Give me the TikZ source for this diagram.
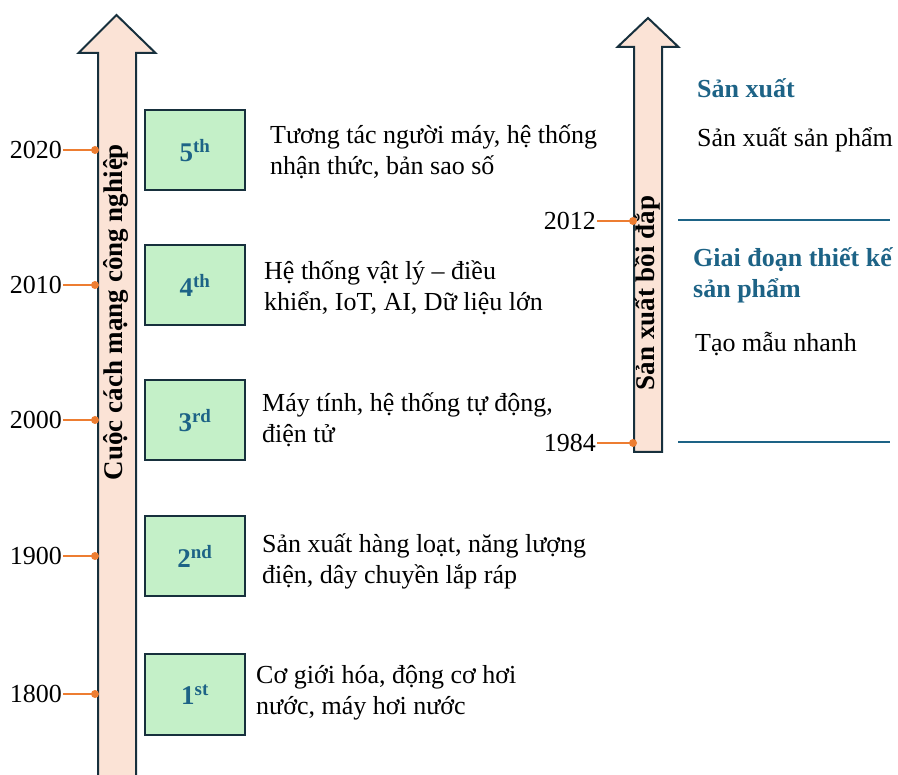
\documentclass[tikz,border=0pt]{standalone}
\usepackage{fontspec}
\setmainfont{Liberation Serif}
\definecolor{peach}{HTML}{FBE3D6}
\definecolor{edge}{HTML}{17303D}
\definecolor{mint}{HTML}{C4F0C8}
\definecolor{accent}{HTML}{ED7D31}
\definecolor{headblue}{HTML}{1D6386}
\tikzset{
  timeline/.style={fill=peach, draw=edge, line width=2pt, line join=miter},
  era/.style={draw=edge, fill=mint, line width=2pt, minimum width=100pt,
    minimum height=80pt, inner sep=0pt,
    font=\fontsize{27}{30}\selectfont\bfseries, text=headblue},
  % multi-line descriptions are placed by the baseline of their last line
  desc/.style={anchor=base west, align=left, inner sep=0pt,
    font=\fontsize{26}{31}\selectfont},
  year/.style={anchor=east, inner sep=1pt, font=\fontsize{26}{31}\selectfont},
  tick/.style={draw=accent, line width=2pt},
  dot/.style={circle, fill=accent, minimum size=8pt, inner sep=0pt},
  axislabel/.style={rotate=90, inner sep=0pt,
    font=\fontsize{27}{31}\selectfont\bfseries},
  phase/.style={draw=headblue, line width=2pt},
  heading/.style={anchor=base west, align=left, inner sep=0pt,
    font=\fontsize{26}{31}\selectfont\bfseries, text=headblue},
}
\begin{document}
\begin{tikzpicture}[x=1pt, y=-1pt]
\useasboundingbox (0,0) rectangle (898,775);
\clip (0,0) rectangle (898,775);

% ---- industrial revolutions timeline ----
\draw[timeline] (98,800) -- (98,53) -- (78.5,53) -- (116.5,15) -- (155.5,53)
  -- (136,53) -- (136,800) -- cycle;
\node[axislabel] (irlabel) at (116,312) {Cuộc cách mạng công nghiệp};

\node[era] (r5) at (195,150.5) {5\textsuperscript{th}};
\node[era] (r4) at (195,285.5) {4\textsuperscript{th}};
\node[era] (r3) at (195,420.5) {3\textsuperscript{rd}};
\node[era] (r2) at (195,556) {2\textsuperscript{nd}};
\node[era] (r1) at (195,694.5) {1\textsuperscript{st}};

\node[desc] (t5) at (270,175) {Tương tác người máy, hệ thống\\nhận thức, bản sao số};
\node[desc] (t4) at (264,311) {Hệ thống vật lý – điều\\khiển, IoT, AI, Dữ liệu lớn};
\node[desc] (t3) at (262,443) {Máy tính, hệ thống tự động,\\điện tử};
\node[desc] (t2) at (262,584) {Sản xuất hàng loạt, năng lượng\\điện, dây chuyền lắp ráp};
\node[desc] (t1) at (256,714) {Cơ giới hóa, động cơ hơi\\nước, máy hơi nước};

\foreach \yr/\yy in {2020/150, 2010/285, 2000/420, 1900/556, 1800/694} {
  \node[year] (y\yr) at (63,\yy) {\yr};
  \node[dot] (d\yr) at (95,\yy) {};
  \draw[tick] (y\yr.east) -- (d\yr.center);
}

% ---- additive manufacturing timeline ----
\draw[timeline] (634,452) -- (634,47) -- (617.5,47) -- (648,18) -- (678.5,47)
  -- (662,47) -- (662,452) -- cycle;
\node[axislabel] (amlabel) at (648,293) {Sản xuất bồi đắp};

\foreach \yr/\yy in {2012/221, 1984/443} {
  \node[year] (y\yr) at (597,\yy) {\yr};
  \node[dot] (d\yr) at (633,\yy) {};
  \draw[tick] (y\yr.east) -- (d\yr.center);
}

\coordinate (p1a) at (678,220);
\coordinate (p1b) at (890,220);
\coordinate (p2a) at (678,442);
\coordinate (p2b) at (890,442);
\draw[phase] (p1a) -- (p1b);
\draw[phase] (p2a) -- (p2b);

\node[heading] (h1) at (697,98) {Sản xuất};
\node[desc] (s1) at (697,147) {Sản xuất sản phẩm};
\node[heading] (h2) at (693,298) {Giai đoạn thiết kế\\sản phẩm};
\node[desc] (s2) at (695,352) {Tạo mẫu nhanh};
\end{tikzpicture}
\end{document}
